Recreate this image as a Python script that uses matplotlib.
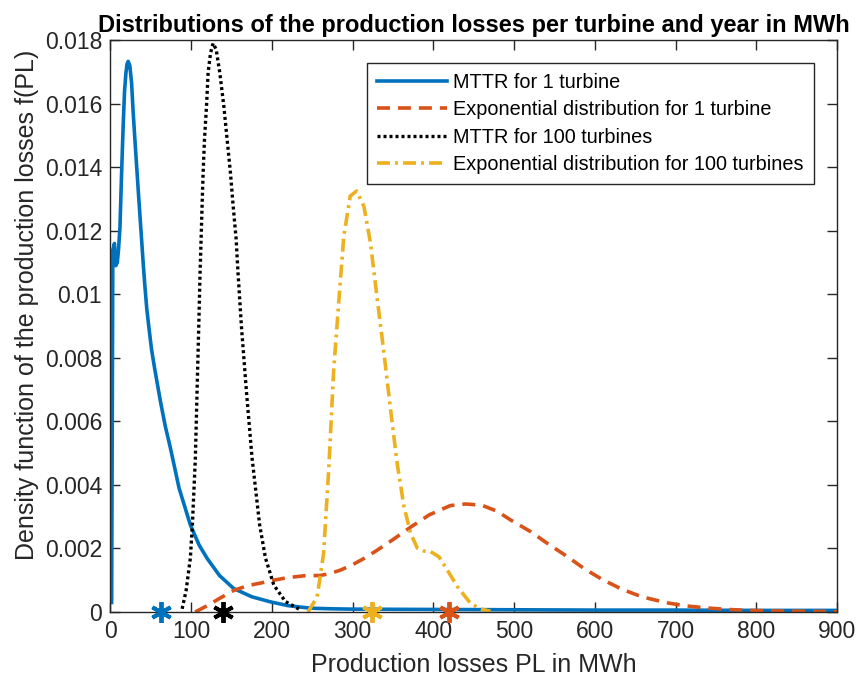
import matplotlib
matplotlib.use("Agg")
from matplotlib import pyplot as plt

plt.rcParams['font.family'] = ['Liberation Sans', 'DejaVu Sans']

# MTTR for 1 turbine
mttr1X = [1.5, 3, 5, 6.5, 8.5, 10, 11.8, 13.8, 15.9, 17.5, 19.2, 20.6, 22, 24, 26.2, 28, 30.3,
          32.3, 34.4, 36.5, 38.6, 40.6, 42.7, 45, 48, 51, 55, 62, 68, 74.3, 85, 99, 110, 119.7,
          135, 152.6, 175, 198, 220, 247.6, 275, 300, 400, 500, 600, 700, 800, 900]
mttr1Y = [0.0003, 0.0114, 0.0116, 0.0109, 0.0110, 0.0114, 0.0121, 0.0138, 0.01539, 0.0164,
          0.01697, 0.01725, 0.01733, 0.0172, 0.01665, 0.0158, 0.01487, 0.0141, 0.01329, 0.0125,
          0.01172, 0.01097, 0.01025, 0.00955, 0.00888, 0.00825, 0.00763, 0.00662, 0.00584,
          0.00516, 0.0039, 0.00274, 0.0021, 0.00169, 0.00115, 0.00074, 0.00048, 0.00032,
          0.0002, 0.00012, 0.0001, 0.00009, 0.00008, 0.00007, 0.00006, 0.00006, 0.00005, 0.00005]

# exponential distribution for 1 turbine
exp1X = [105, 120, 136, 152.8, 170, 185.9, 200, 219, 240, 260, 272, 285, 300, 315, 330, 350,
         371.7, 395, 421, 440, 460, 479, 496, 521, 541.6, 566.6, 587, 608, 633, 658, 687, 710,
         737, 765, 791, 830, 870, 900]
exp1Y = [0.0, 0.0002, 0.00044, 0.00068, 0.00083, 0.00091, 0.00099, 0.00108, 0.00114, 0.00115,
         0.00121, 0.00132, 0.00149, 0.0017, 0.00194, 0.00228, 0.00267, 0.00306, 0.00335,
         0.0034, 0.00336, 0.00317, 0.00289, 0.00252, 0.00215, 0.00173, 0.00136, 0.00104,
         0.00072, 0.00048, 0.0003, 0.0002, 0.00013, 0.00008, 0.00005, 0.00003, 0.00002, 0.00001]

# MTTR for 100 turbines
mttr100X = [88.8, 93.7, 99, 101.5, 105.2, 107.3, 109.4, 111, 112.3, 113.5, 114.8, 116.5, 119,
            121, 124, 127.2, 131, 135.4, 140.4, 144.5, 148.6, 152, 155.7, 158, 162.2, 168.4,
            175.4, 184.8, 192, 202.3, 216.7, 235]
mttr100Y = [0.0001, 0.00067, 0.0017, 0.00274, 0.00485, 0.00695, 0.009, 0.01068, 0.01173,
            0.01278, 0.01383, 0.01488, 0.01593, 0.01698, 0.0176, 0.0179, 0.0177, 0.01698,
            0.01593, 0.01488, 0.01383, 0.01278, 0.01173, 0.01068, 0.009, 0.00695, 0.00485,
            0.00274, 0.0017, 0.00085, 0.00033, 0.00007]

# exponential distribution for 100 turbines
exp100X = [244.6, 256, 264, 270.3, 276.5, 282.7, 289, 297, 304.8, 313.9, 322, 330, 338.7, 347,
           355, 363.5, 371.7, 380, 388, 396.5, 406.8, 417, 429.6, 446, 458, 470.7]
exp100Y = [0.0, 0.00047, 0.00185, 0.00447, 0.00762, 0.00973, 0.01183, 0.01309, 0.01325,
           0.01277, 0.01162, 0.00994, 0.00816, 0.00636, 0.00469, 0.00332, 0.00248, 0.00201,
           0.00192, 0.0019, 0.00174, 0.00133, 0.0008, 0.00027, 0.0001, 0.00002]

# mean values marked on the x axis
meanX = [63, 419, 140, 324]

labels = ['MTTR for 1 turbine', 'Exponential distribution for 1 turbine',
          'MTTR for 100 turbines', 'Exponential distribution for 100 turbines']
colors = ['#0072BD', '#D95319', '#000000', '#EDB120']

fig = plt.figure(figsize=(8.56, 6.80), dpi=100)
ax = fig.add_axes([0.129, 0.1, 0.849, 0.841])

ax.plot(mttr1X, mttr1Y, color=colors[0], lw=2.6, label=labels[0])
ax.plot(exp1X, exp1Y, color=colors[1], lw=2.6, dashes=(3.6, 2.2), label=labels[1])
ax.plot(mttr100X, mttr100Y, color=colors[2], lw=2.4, dashes=(0.9, 0.9), label=labels[2])
ax.plot(exp100X, exp100Y, color=colors[3], lw=2.6, dashes=(3.6, 1.4, 0.8, 1.4), label=labels[3])

for mx, c in zip(meanX, colors):
    ax.plot([mx], [0], marker=(6, 2, 0), ms=15, mew=2.8, color=c, clip_on=False,
            label='_nolegend_', zorder=5)

ax.set_xlim(0, 900)
ax.set_ylim(0, 0.018)
ax.set_xticks(range(0, 901, 100))
ax.set_yticks([i * 0.002 for i in range(10)])
ax.set_yticklabels(['0'] + ['%g' % (i * 0.002) for i in range(1, 10)])

grey = '#262626'
for s in ax.spines.values():
    s.set_color(grey)
    s.set_linewidth(1.0)
ax.tick_params(direction='in', length=7, width=1, color=grey, labelcolor=grey,
               labelsize=16.5, top=True, right=True, pad=6)

ax.set_xlabel('Production losses PL in MWh', fontsize=18, color=grey)
ax.set_ylabel('Density function of the production losses f(PL)', fontsize=18, color=grey)
ax.xaxis.set_label_coords(0.5, -0.072)
ax.yaxis.set_label_coords(-0.098, 0.537)
ax.set_title('Distributions of the production losses per turbine and year in MWh',
             fontsize=17, fontweight='bold', pad=6)

leg = ax.legend(loc='upper right', bbox_to_anchor=(0.968, 0.96), borderaxespad=0,
                fontsize=14.3, handlelength=3.5, handletextpad=0.35, labelspacing=0.42,
                fancybox=False, framealpha=1, borderpad=0.5)
leg.get_frame().set_edgecolor(grey)
leg.get_frame().set_linewidth(1.0)

fig.savefig('out.png', dpi=100)
